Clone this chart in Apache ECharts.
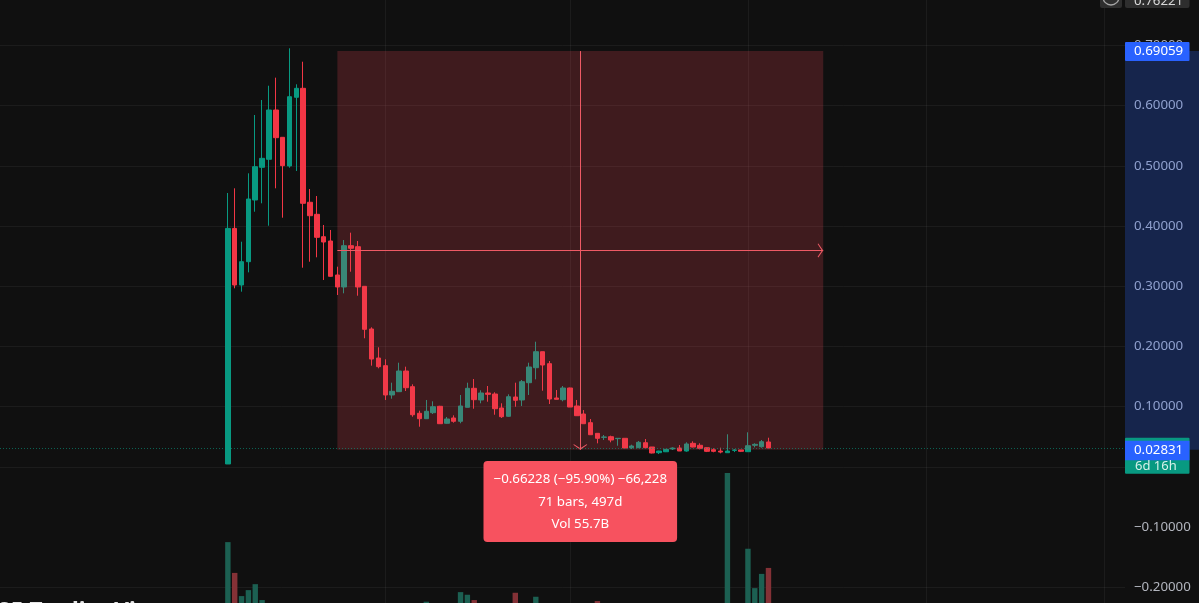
<!DOCTYPE html>
<html><head><meta charset="utf-8">
<style>html,body{margin:0;padding:0;background:#101010}#c{width:1199px;height:603px}</style>
<script src="https://cdn.jsdelivr.net/npm/echarts@6/dist/echarts.min.js"></script>
</head><body><div id="c"></div>
<script>
const opens =[.0047,.396,.302,.3407,.4432,.4975,.5108,.5927,.5473,.4997,.6138,.6287,.4394,.4194,.3822,.3751,.3186,.2987,.3673,.3656,.2998,.2289,.1807,.168,.1193,.1248,.1591,.1331,.0889,.0799,.0899,.1005,.0723,.0811,.0756,.0988,.1304,.111,.1226,.1209,.0977,.0839,.1159,.111,.1397,.1646,.1912,.1713,.1143,.1115,.1309,.101,.0877,.0733,.0556,.049,.05,.0468,.0473,.0317,.0317,.04,.0329,.0234,.025,.0296,.0312,.0262,.039,.0357,.0317,.0284,.0262,.0234,.0273,.028,.0251,.0357,.0334,.0412];
const closes=[.396,.302,.3407,.4448,.4985,.5124,.5927,.5467,.5002,.6148,.6287,.4377,.4171,.3812,.3734,.3164,.2987,.3673,.363,.2987,.2284,.179,.1663,.1193,.1254,.1591,.1314,.0865,.0799,.0922,.0998,.0716,.0794,.0756,.101,.1304,.1115,.1226,.1204,.0965,.0832,.1164,.1105,.1414,.1658,.1912,.1691,.1126,.1121,.1309,.0993,.0849,.0716,.0533,.0473,.0495,.0445,.0473,.0312,.0346,.0407,.0317,.0229,.0262,.029,.0312,.0262,.0379,.0329,.0307,.0257,.0257,.0245,.0262,.028,.0257,.035,.0373,.0417,.0312];
const lows  =[.0047,.2965,.2909,.323,.4237,.4377,.4005,.4626,.4138,.4968,.4914,.3307,.3407,.348,.3103,.3156,.2854,.2882,.3241,.2842,.2135,.168,.1636,.111,.1131,.1242,.1259,.0832,.0666,.0797,.0877,.0716,.0716,.0733,.0723,.0988,.0965,.1055,.1081,.0865,.0811,.0832,.0998,.101,.1193,.1453,.1264,.1043,.1121,.1088,.0993,.0849,.0716,.0533,.039,.0445,.0407,.035,.0312,.0296,.0312,.0317,.0223,.0212,.0245,.0279,.0262,.0251,.0323,.029,.0245,.0241,.0224,.0234,.0245,.0245,.0251,.0323,.0317,.0312];
const highs =[.4548,.4626,.3739,.4875,.5844,.6093,.633,.6464,.5473,.6952,.6354,.6729,.4615,.4498,.4017,.3934,.3324,.3767,.3889,.3751,.2998,.2317,.1985,.1786,.1397,.1729,.1663,.137,.0932,.111,.1088,.1013,.0827,.0855,.1193,.1397,.1458,.1271,.1342,.1238,.1055,.1204,.1397,.1442,.1729,.2078,.1912,.1757,.1276,.1342,.1315,.111,.0943,.0794,.0556,.0528,.0517,.0473,.0473,.0367,.0429,.0462,.0329,.0267,.0295,.0323,.0362,.0407,.0423,.039,.0323,.0307,.0317,.054,.0295,.028,.0573,.039,.0445,.0483];
const volumes=[3.18,2.25,1.55,1.73,1.91,1.43,1.2,1.1,1.0,1.2,.9,1.1,1.0,.8,.7,.8,.6,.9,.5,.7,.9,.8,.5,.8,.4,.6,.5,.7,.4,1.38,.5,.6,.4,.3,1.67,1.59,1.43,.5,.4,.8,.5,.9,1.65,.9,1.1,1.53,1.0,1.2,.3,.5,.7,.6,.5,.8,1.40,.3,.3,.3,.6,.2,.4,.4,.6,.3,.3,.2,.3,.5,.3,.2,.3,.2,.3,5.27,.3,.3,2.98,1.79,2.22,2.40];
const yTicks=[0.7,0.6,0.5,0.4,0.3,0.2,0.1,-0.1,-0.2];
const priceGridLines=[0.7,0.6,0.5,0.4,0.3,0.2,0.1,0,-0.2];
const timeGridBars=[23,50,76,102,128];
const measureStartBar=16, measureEndBar=87;
const measureTop=0.69059, measureBottom=0.02831, lastPrice=0.02831;
const measureLines=["\u22120.66228 (\u221295.90%) \u221266,228","71 bars, 497d","Vol 55.7B"];
const countdown="6d 16h", watermark="25 TradingView", topPrice="0.76221";

const UP='#089981',DOWN='#f23645',FONT='"Noto Sans",sans-serif';
const MID=(measureTop+measureBottom)/2, MIDBAR=(measureStartBar+measureEndBar)/2;
const chevron='path://M10,0 L10,0 Z M10,10 L20,17 L19,18 L10,12 L1,18 L0,17 Z M10,20 L10,20 Z';
const isUp=i=>closes[i]>=opens[i];
const fmt=v=>(v<0?'\u2212':'')+Math.abs(v).toFixed(5);
const chart=echarts.init(document.getElementById('c'),null,{renderer:'canvas'});
chart.setOption({
  animation:false,backgroundColor:'#101010',
  grid:{left:0,width:1125,top:-14.8,height:662.2,containLabel:false,outerBoundsMode:'none'},
  xAxis:{type:'value',min:-33.3,max:131.1,show:false},
  yAxis:[
    {type:'value',position:'right',min:-0.3,max:0.8,interval:0.1,
     axisLine:{show:false},axisTick:{show:false},splitLine:{show:false},
     axisLabel:{margin:9,padding:[3,0,0,0],color:'#b2b5be',fontFamily:FONT,fontSize:13.3,align:'left',
       formatter:v=>yTicks.some(t=>Math.abs(t-v)<1e-9)?fmt(v):''}},
    {type:'value',min:0,max:20,show:false}
  ],
  series:[
    {type:'line',name:'grid',data:[],z:1,silent:true,
     markLine:{silent:true,z:1,symbol:'none',animation:false,label:{show:false},
       lineStyle:{color:'rgba(255,255,255,0.05)',width:1,type:'solid'},
       data:timeGridBars.map(b=>({xAxis:b})).concat(priceGridLines.map(v=>({yAxis:v})))}},
    {type:'bar',name:'Volume',yAxisIndex:1,barWidth:5.4,z:2,silent:true,
     data:volumes.map((v,i)=>[i,v]),
     itemStyle:{color:p=>isUp(p.dataIndex)?'#1c6052':'#843136'}},
    {type:'candlestick',name:'Price',z:3,barWidth:5,silent:true,
     encode:{x:0,y:[1,2,3,4]},
     data:opens.map((o,i)=>[i,o,closes[i],lows[i],highs[i]]),
     itemStyle:{color:UP,color0:DOWN,borderColor:UP,borderColor0:DOWN,borderWidth:1},
     markArea:{silent:true,z:4,animation:false,label:{show:false},
       itemStyle:{color:'rgba(242,70,85,0.21)'},
       data:[[{coord:[measureStartBar,measureTop]},{coord:[measureEndBar,measureBottom]}]]}},
    {type:'line',name:'measure',data:[],z:5,silent:true,
     markLine:{silent:true,z:5,animation:false,label:{show:false},
       symbol:['none',chevron],symbolSize:[14,14],
       lineStyle:{color:'#ee5a65',width:1,type:'solid'},
       data:[
         [{coord:[measureStartBar,MID]},{coord:[measureEndBar,MID]}],
         [{coord:[MIDBAR,measureTop]},{coord:[MIDBAR,measureBottom]}]
       ]}},
    {type:'line',name:'last',data:[],z:6,silent:true,
     markLine:{silent:true,z:6,animation:false,symbol:'none',label:{show:false},
       lineStyle:{color:'rgba(8,153,129,0.6)',width:1,type:[1,2]},
       data:[{yAxis:lastPrice}]}}
  ]
});
const py=v=>chart.convertToPixel({gridIndex:0},[0,v])[1];
const px=b=>chart.convertToPixel({gridIndex:0},[b,0])[0];
const Y1=py(measureTop),Y2=py(lastPrice),AX=1125,cx=px(MIDBAR);
const txt=(x,y,t,fill,size,align,extra)=>({type:'text',z:103,style:Object.assign({x,y,text:t,fill,fontFamily:FONT,fontSize:size,align:align||'left',verticalAlign:'middle'},extra||{})});
const rect=(x,y,w,h,fill,r,z)=>({type:'rect',z:z||101,shape:{x,y,width:w,height:h,r:r||0},style:{fill}});
chart.setOption({graphic:{elements:[
  rect(AX,Y1,74,Y2-Y1,'rgba(41,98,255,0.25)',0,1),
  rect(AX,Y1-9,64.5,19,'#2962ff',1),
  txt(AX+9,Y1+.5,fmt(measureTop),'#ffffff',13.3),
  rect(AX,Y2-12,64.5,36,UP,1),
  rect(AX,Y2-9,64.5,19.5,'#2962ff',0,102),
  txt(AX+9,Y2+.5,fmt(lastPrice),'#ffffff',13.3),
  txt(AX+10,Y2+17,countdown,'#d6f0ea',13),
  rect(1100,-10,22,18,'#2e2e2e',2),
  {type:'circle',z:102,shape:{cx:1111,cy:-3,r:8},style:{fill:'none',stroke:'#a6a6a6',lineWidth:1.3}},
  rect(AX,-10,64.5,18,'#2e2e2e',2),
  txt(AX+9,1,topPrice,'#d8d8d8',13.3),
  rect(cx-96.8,461,193.6,81,'#f7525f',4),
  txt(cx,479.5,measureLines[0],'#ffffff',13.3,'center'),
  txt(cx,502,measureLines[1],'#ffffff',13.3,'center'),
  txt(cx,524.5,measureLines[2],'#ffffff',13.3,'center'),
  txt(-2,612.8,watermark,'#e6e6e6',22.5,'left',{fontWeight:700})
]}});
</script></body></html>
